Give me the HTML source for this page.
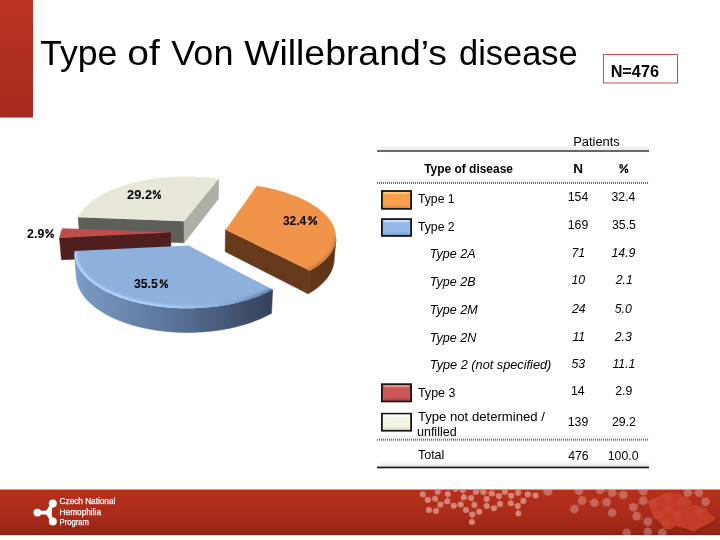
<!DOCTYPE html>
<html><head><meta charset="utf-8"><style>
html,body{margin:0;padding:0;background:#fff;width:720px;height:540px;overflow:hidden}
body{position:relative;font-family:"Liberation Sans",sans-serif}
svg text{font-family:"Liberation Sans",sans-serif;fill:#000}
</style></head><body>
<svg width="720" height="540" style="position:absolute;left:0;top:0;will-change:transform">
<defs>
<linearGradient id="gBar" x1="0" y1="0" x2="0" y2="1"><stop offset="0" stop-color="#BA3421"/><stop offset="1" stop-color="#A82A1E"/></linearGradient>
<linearGradient id="gFoot" x1="0" y1="0" x2="0" y2="1"><stop offset="0" stop-color="#B72F1C"/><stop offset="0.6" stop-color="#A92B1A"/><stop offset="1" stop-color="#962214"/></linearGradient>
<linearGradient id="gShadow" x1="0" y1="0" x2="0" y2="1"><stop offset="0" stop-color="#000" stop-opacity="0"/><stop offset="1" stop-color="#000" stop-opacity="0.09"/></linearGradient>
<linearGradient id="swOr" x1="0" y1="0" x2="0" y2="1"><stop offset="0" stop-color="#FBB070"/><stop offset="0.25" stop-color="#F79A4E"/><stop offset="1" stop-color="#F39448"/></linearGradient>
<linearGradient id="swBl" x1="0" y1="0" x2="0" y2="1"><stop offset="0" stop-color="#B5D0F4"/><stop offset="0.25" stop-color="#98BCEB"/><stop offset="1" stop-color="#8FB4E3"/></linearGradient>
<linearGradient id="swRd" x1="0" y1="0" x2="0" y2="1"><stop offset="0" stop-color="#E07A78"/><stop offset="0.25" stop-color="#CE5B58"/><stop offset="1" stop-color="#C65552"/></linearGradient>
<linearGradient id="swCr" x1="0" y1="0" x2="0" y2="1"><stop offset="0" stop-color="#FFFFF8"/><stop offset="0.25" stop-color="#F8F6EA"/><stop offset="1" stop-color="#F2F0E2"/></linearGradient>
<filter id="blur2" x="-20%" y="-20%" width="140%" height="140%"><feGaussianBlur stdDeviation="1.5"/></filter>
<filter id="blurS" x="-5%" y="-100%" width="110%" height="300%"><feGaussianBlur stdDeviation="1.6"/></filter>
<clipPath id="footClip"><rect x="0" y="489.6" width="720" height="45.4"/></clipPath>
<pattern id="dot" width="2" height="2" patternUnits="userSpaceOnUse" x="377" y="0"><rect width="1" height="2" fill="#6a6a6a"/></pattern>
</defs>
<rect x="0" y="0" width="33" height="117.5" fill="url(#gBar)"/>
<rect x="603.5" y="54.5" width="74" height="28.5" fill="#fff" stroke="#C0504D" stroke-width="1"/>
<svg width="720" height="540" style="position:absolute;left:0;top:0">
<defs>
<linearGradient id="gBl" gradientUnits="userSpaceOnUse" x1="75" y1="0" x2="272" y2="0"><stop offset="0" stop-color="#7C9CC6"/><stop offset="0.5" stop-color="#5A7398"/><stop offset="1" stop-color="#34425A"/></linearGradient>
<linearGradient id="gOr" gradientUnits="userSpaceOnUse" x1="300" y1="0" x2="336" y2="0"><stop offset="0" stop-color="#673A1B"/><stop offset="1" stop-color="#5C3318"/></linearGradient>
<linearGradient id="rBl" gradientUnits="userSpaceOnUse" x1="75" y1="0" x2="272" y2="0"><stop offset="0" stop-color="#B4D4FF"/><stop offset="0.45" stop-color="#B0D0FA"/><stop offset="0.75" stop-color="#8DB0DD"/><stop offset="1" stop-color="#5C7AA4"/></linearGradient>
<linearGradient id="rOr" gradientUnits="userSpaceOnUse" x1="300" y1="0" x2="336" y2="0"><stop offset="0" stop-color="#C87438"/><stop offset="1" stop-color="#D88440"/></linearGradient>
<filter id="blur1" x="-10%" y="-50%" width="120%" height="200%"><feGaussianBlur stdDeviation="0.9"/></filter>
</defs>
<polygon points="184.0,221.3 78.2,217.2 79.8,238.5 184.2,242.8" fill="#5E5F5A" stroke="#5E5F5A" stroke-width="0.6" stroke-linejoin="round"/>
<polygon points="184.0,221.3 184.2,242.8 218.3,198.9 218.6,178.9" fill="#AEAEA4" stroke="#AEAEA4" stroke-width="0.6" stroke-linejoin="round"/>
<clipPath id="ct3"><polygon points="184.0,221.3 78.2,217.2 78.8,215.9 79.5,214.6 80.2,213.4 81.0,212.1 81.9,210.9 82.9,209.7 83.9,208.5 84.9,207.3 86.1,206.2 87.3,205.0 88.5,203.9 89.8,202.8 91.1,201.7 92.6,200.6 94.0,199.5 95.5,198.5 97.1,197.5 98.7,196.5 100.4,195.5 102.1,194.5 103.8,193.6 105.6,192.7 107.5,191.8 109.3,190.9 111.3,190.1 113.2,189.3 115.2,188.5 117.2,187.7 119.3,186.9 121.4,186.2 123.5,185.5 125.7,184.8 127.9,184.2 130.1,183.6 132.4,182.9 134.6,182.4 136.9,181.8 139.3,181.3 141.6,180.8 144.0,180.3 146.4,179.9 148.8,179.5 151.2,179.1 153.6,178.7 156.1,178.4 158.6,178.1 161.0,177.8 163.5,177.5 166.0,177.3 168.5,177.1 171.0,176.9 173.6,176.8 176.1,176.7 178.6,176.6 181.2,176.5 183.7,176.5 186.2,176.5 188.7,176.5 191.3,176.6 193.8,176.6 196.3,176.7 198.8,176.9 201.3,177.0 203.8,177.2 206.3,177.4 208.8,177.7 211.3,177.9 213.7,178.2 216.2,178.6 218.6,178.9"/></clipPath>
<polygon points="184.0,221.3 78.2,217.2 78.8,215.9 79.5,214.6 80.2,213.4 81.0,212.1 81.9,210.9 82.9,209.7 83.9,208.5 84.9,207.3 86.1,206.2 87.3,205.0 88.5,203.9 89.8,202.8 91.1,201.7 92.6,200.6 94.0,199.5 95.5,198.5 97.1,197.5 98.7,196.5 100.4,195.5 102.1,194.5 103.8,193.6 105.6,192.7 107.5,191.8 109.3,190.9 111.3,190.1 113.2,189.3 115.2,188.5 117.2,187.7 119.3,186.9 121.4,186.2 123.5,185.5 125.7,184.8 127.9,184.2 130.1,183.6 132.4,182.9 134.6,182.4 136.9,181.8 139.3,181.3 141.6,180.8 144.0,180.3 146.4,179.9 148.8,179.5 151.2,179.1 153.6,178.7 156.1,178.4 158.6,178.1 161.0,177.8 163.5,177.5 166.0,177.3 168.5,177.1 171.0,176.9 173.6,176.8 176.1,176.7 178.6,176.6 181.2,176.5 183.7,176.5 186.2,176.5 188.7,176.5 191.3,176.6 193.8,176.6 196.3,176.7 198.8,176.9 201.3,177.0 203.8,177.2 206.3,177.4 208.8,177.7 211.3,177.9 213.7,178.2 216.2,178.6 218.6,178.9" fill="#E9E7DA"/>
<polygon points="225.5,229.8 225.2,251.6 308.1,293.8 309.8,270.7" fill="#673A1B" stroke="#673A1B" stroke-width="0.6" stroke-linejoin="round"/>
<polygon points="335.9,239.2 335.8,240.6 335.5,242.0 335.2,243.4 334.8,244.8 334.3,246.2 333.8,247.6 333.1,249.0 332.4,250.4 331.6,251.7 330.7,253.1 329.7,254.5 328.7,255.8 327.6,257.1 326.3,258.5 325.0,259.8 323.7,261.1 322.2,262.3 320.7,263.6 319.1,264.8 317.4,266.0 315.6,267.2 313.7,268.4 311.8,269.6 309.8,270.7 308.1,293.8 310.1,292.6 312.0,291.4 313.8,290.2 315.6,289.0 317.3,287.7 318.9,286.4 320.4,285.1 321.8,283.8 323.2,282.5 324.5,281.1 325.7,279.8 326.8,278.4 327.9,277.0 328.8,275.6 329.7,274.2 330.5,272.8 331.2,271.4 331.8,269.9 332.4,268.5 332.9,267.1 333.3,265.6 333.6,264.2 333.8,262.7 334.0,261.3" fill="url(#gOr)" stroke="url(#gOr)" stroke-width="0.6" stroke-linejoin="round"/>
<clipPath id="ct0"><polygon points="225.5,229.8 256.7,185.9 259.2,186.3 261.7,186.7 264.2,187.1 266.6,187.6 269.1,188.1 271.5,188.7 273.8,189.2 276.2,189.8 278.5,190.4 280.9,191.1 283.1,191.7 285.4,192.4 287.6,193.2 289.8,193.9 291.9,194.7 294.1,195.5 296.1,196.3 298.2,197.2 300.2,198.1 302.2,199.0 304.1,199.9 306.0,200.8 307.8,201.8 309.6,202.8 311.3,203.8 313.0,204.9 314.7,205.9 316.3,207.0 317.8,208.1 319.3,209.2 320.8,210.4 322.1,211.5 323.5,212.7 324.7,213.9 325.9,215.1 327.1,216.4 328.1,217.6 329.1,218.9 330.1,220.2 331.0,221.4 331.8,222.8 332.5,224.1 333.2,225.4 333.8,226.7 334.4,228.1 334.8,229.5 335.2,230.8 335.5,232.2 335.7,233.6 335.9,235.0 336.0,236.4 336.0,237.8 335.9,239.2 335.8,240.6 335.5,242.0 335.2,243.4 334.8,244.8 334.4,246.2 333.8,247.6 333.2,248.9 332.4,250.3 331.6,251.7 330.7,253.1 329.8,254.4 328.7,255.8 327.6,257.1 326.4,258.4 325.1,259.7 323.7,261.0 322.2,262.3 320.7,263.6 319.1,264.8 317.4,266.0 315.6,267.2 313.7,268.4 311.8,269.6 309.8,270.7"/></clipPath>
<polygon points="225.5,229.8 256.7,185.9 259.2,186.3 261.7,186.7 264.2,187.1 266.6,187.6 269.1,188.1 271.5,188.7 273.8,189.2 276.2,189.8 278.5,190.4 280.9,191.1 283.1,191.7 285.4,192.4 287.6,193.2 289.8,193.9 291.9,194.7 294.1,195.5 296.1,196.3 298.2,197.2 300.2,198.1 302.2,199.0 304.1,199.9 306.0,200.8 307.8,201.8 309.6,202.8 311.3,203.8 313.0,204.9 314.7,205.9 316.3,207.0 317.8,208.1 319.3,209.2 320.8,210.4 322.1,211.5 323.5,212.7 324.7,213.9 325.9,215.1 327.1,216.4 328.1,217.6 329.1,218.9 330.1,220.2 331.0,221.4 331.8,222.8 332.5,224.1 333.2,225.4 333.8,226.7 334.4,228.1 334.8,229.5 335.2,230.8 335.5,232.2 335.7,233.6 335.9,235.0 336.0,236.4 336.0,237.8 335.9,239.2 335.8,240.6 335.5,242.0 335.2,243.4 334.8,244.8 334.4,246.2 333.8,247.6 333.2,248.9 332.4,250.3 331.6,251.7 330.7,253.1 329.8,254.4 328.7,255.8 327.6,257.1 326.4,258.4 325.1,259.7 323.7,261.0 322.2,262.3 320.7,263.6 319.1,264.8 317.4,266.0 315.6,267.2 313.7,268.4 311.8,269.6 309.8,270.7" fill="#F0944A"/>
<g clip-path="url(#ct0)"><polyline points="336.0,236.4 336.0,237.8 335.9,239.2 335.8,240.6 335.5,242.0 335.2,243.4 334.8,244.8 334.3,246.2 333.8,247.6 333.1,249.0 332.4,250.4 331.6,251.7 330.7,253.1 329.7,254.5 328.7,255.8 327.6,257.1 326.3,258.5 325.1,259.8 323.7,261.1 322.2,262.3 320.7,263.6 319.1,264.8 317.4,266.0 315.6,267.2 313.8,268.4 311.8,269.6 309.8,270.7 307.8,271.8 305.6,272.8" fill="none" stroke="url(#rOr)" stroke-width="5" filter="url(#blur1)"/></g>
<polygon points="170.6,232.5 59.5,237.7 61.5,259.7 171.0,254.4" fill="#4F1E1E" stroke="#4F1E1E" stroke-width="0.6" stroke-linejoin="round"/>
<clipPath id="ct2"><polygon points="170.6,232.5 59.5,237.7 59.8,236.1 60.1,234.5 60.5,232.9 61.0,231.3 61.6,229.7 62.3,228.2"/></clipPath>
<polygon points="170.6,232.5 59.5,237.7 59.8,236.1 60.1,234.5 60.5,232.9 61.0,231.3 61.6,229.7 62.3,228.2" fill="#BF4E4B"/>
<polygon points="272.6,289.6 270.4,290.7 268.1,291.9 265.7,293.0 263.3,294.1 260.7,295.2 258.2,296.2 255.5,297.2 252.8,298.1 250.1,299.1 247.2,299.9 244.4,300.8 241.4,301.6 238.5,302.3 235.4,303.1 232.4,303.7 229.3,304.4 226.1,304.9 222.9,305.5 219.7,306.0 216.5,306.4 213.2,306.8 209.9,307.2 206.6,307.5 203.2,307.7 199.9,308.0 196.5,308.1 193.2,308.2 189.8,308.3 186.4,308.3 183.0,308.3 179.7,308.2 176.3,308.0 173.0,307.9 169.6,307.6 166.3,307.3 163.0,307.0 159.7,306.6 156.5,306.2 153.3,305.7 150.1,305.2 147.0,304.7 143.9,304.1 140.8,303.4 137.8,302.7 134.8,302.0 131.9,301.2 129.0,300.4 126.2,299.5 123.5,298.6 120.8,297.7 118.1,296.7 115.6,295.7 113.1,294.7 110.6,293.6 108.3,292.5 106.0,291.4 103.8,290.2 101.6,289.0 99.6,287.8 97.6,286.5 95.6,285.2 93.8,283.9 92.1,282.6 90.4,281.3 88.8,279.9 87.3,278.5 85.9,277.2 84.5,275.7 83.3,274.3 82.1,272.9 81.0,271.4 80.0,270.0 79.1,268.5 78.2,267.0 77.5,265.5 76.8,264.1 76.2,262.6 75.8,261.1 75.3,259.6 75.0,258.1 74.8,256.6 74.6,255.1 76.4,277.7 76.6,279.2 76.8,280.7 77.2,282.3 77.6,283.8 78.1,285.4 78.6,286.9 79.3,288.5 80.0,290.0 80.9,291.5 81.8,293.0 82.8,294.5 83.8,296.0 85.0,297.5 86.2,299.0 87.6,300.4 89.0,301.8 90.5,303.3 92.0,304.7 93.7,306.0 95.4,307.4 97.2,308.7 99.1,310.1 101.1,311.3 103.1,312.6 105.2,313.8 107.4,315.0 109.7,316.2 112.0,317.3 114.4,318.4 116.9,319.5 119.4,320.6 122.0,321.6 124.7,322.5 127.4,323.4 130.1,324.3 133.0,325.2 135.8,326.0 138.8,326.7 141.7,327.4 144.7,328.1 147.8,328.7 150.9,329.3 154.0,329.8 157.2,330.3 160.4,330.8 163.6,331.1 166.8,331.5 170.1,331.8 173.4,332.0 176.7,332.2 180.0,332.3 183.3,332.4 186.6,332.5 189.9,332.4 193.3,332.4 196.6,332.3 199.9,332.1 203.2,331.9 206.5,331.6 209.7,331.3 213.0,330.9 216.2,330.5 219.4,330.1 222.5,329.6 225.7,329.0 228.8,328.4 231.8,327.8 234.9,327.1 237.8,326.3 240.8,325.6 243.6,324.7 246.5,323.9 249.2,323.0 252.0,322.0 254.6,321.0 257.2,320.0 259.8,319.0 262.2,317.9 264.7,316.7 267.0,315.6 269.3,314.4 271.5,313.2" fill="url(#gBl)" stroke="url(#gBl)" stroke-width="0.6" stroke-linejoin="round"/>
<clipPath id="ct1"><polygon points="188.6,245.6 272.6,289.6 270.4,290.7 268.1,291.9 265.7,293.0 263.3,294.1 260.8,295.2 258.2,296.2 255.6,297.2 252.9,298.1 250.2,299.0 247.4,299.9 244.5,300.7 241.6,301.5 238.6,302.3 235.6,303.0 232.6,303.7 229.5,304.3 226.3,304.9 223.2,305.4 220.0,305.9 216.7,306.4 213.5,306.8 210.2,307.1 206.9,307.5 203.6,307.7 200.2,307.9 196.9,308.1 193.5,308.2 190.2,308.3 186.8,308.3 183.5,308.3 180.1,308.2 176.7,308.1 173.4,307.9 170.1,307.7 166.8,307.4 163.5,307.1 160.2,306.7 157.0,306.3 153.8,305.8 150.6,305.3 147.5,304.8 144.4,304.2 141.3,303.5 138.3,302.8 135.4,302.1 132.4,301.4 129.6,300.5 126.8,299.7 124.0,298.8 121.3,297.9 118.7,296.9 116.1,295.9 113.6,294.9 111.2,293.8 108.8,292.7 106.5,291.6 104.3,290.5 102.1,289.3 100.0,288.1 98.0,286.8 96.1,285.6 94.3,284.3 92.5,283.0 90.8,281.6 89.2,280.3 87.7,278.9 86.2,277.5 84.9,276.1 83.6,274.7 82.4,273.3 81.3,271.9 80.3,270.4 79.3,268.9 78.5,267.5 77.7,266.0 77.0,264.5 76.4,263.0 75.9,261.6 75.5,260.1 75.1,258.6 74.8,257.1 74.6,255.6 74.5,254.1 74.5,252.6 74.6,251.1"/></clipPath>
<polygon points="188.6,245.6 272.6,289.6 270.4,290.7 268.1,291.9 265.7,293.0 263.3,294.1 260.8,295.2 258.2,296.2 255.6,297.2 252.9,298.1 250.2,299.0 247.4,299.9 244.5,300.7 241.6,301.5 238.6,302.3 235.6,303.0 232.6,303.7 229.5,304.3 226.3,304.9 223.2,305.4 220.0,305.9 216.7,306.4 213.5,306.8 210.2,307.1 206.9,307.5 203.6,307.7 200.2,307.9 196.9,308.1 193.5,308.2 190.2,308.3 186.8,308.3 183.5,308.3 180.1,308.2 176.7,308.1 173.4,307.9 170.1,307.7 166.8,307.4 163.5,307.1 160.2,306.7 157.0,306.3 153.8,305.8 150.6,305.3 147.5,304.8 144.4,304.2 141.3,303.5 138.3,302.8 135.4,302.1 132.4,301.4 129.6,300.5 126.8,299.7 124.0,298.8 121.3,297.9 118.7,296.9 116.1,295.9 113.6,294.9 111.2,293.8 108.8,292.7 106.5,291.6 104.3,290.5 102.1,289.3 100.0,288.1 98.0,286.8 96.1,285.6 94.3,284.3 92.5,283.0 90.8,281.6 89.2,280.3 87.7,278.9 86.2,277.5 84.9,276.1 83.6,274.7 82.4,273.3 81.3,271.9 80.3,270.4 79.3,268.9 78.5,267.5 77.7,266.0 77.0,264.5 76.4,263.0 75.9,261.6 75.5,260.1 75.1,258.6 74.8,257.1 74.6,255.6 74.5,254.1 74.5,252.6 74.6,251.1" fill="#8DB0DD"/>
<g clip-path="url(#ct1)"><polyline points="276.8,287.1 274.7,288.4 272.6,289.6 270.4,290.8 268.0,291.9 265.7,293.0 263.2,294.1 260.7,295.2 258.1,296.2 255.5,297.2 252.8,298.2 250.0,299.1 247.2,299.9 244.3,300.8 241.4,301.6 238.4,302.3 235.4,303.1 232.3,303.7 229.2,304.4 226.1,304.9 222.9,305.5 219.7,306.0 216.4,306.4 213.2,306.8 209.9,307.2 206.6,307.5 203.2,307.7 199.9,308.0 196.5,308.1 193.1,308.2 189.8,308.3 186.4,308.3 183.0,308.3 179.7,308.2 176.3,308.0 172.9,307.9 169.6,307.6 166.3,307.3 163.0,307.0 159.7,306.6 156.5,306.2 153.3,305.7 150.1,305.2 147.0,304.7 143.9,304.1 140.8,303.4 137.8,302.7 134.8,302.0 131.9,301.2 129.0,300.4 126.2,299.5 123.5,298.6 120.8,297.7 118.2,296.7 115.6,295.7 113.1,294.7 110.7,293.6 108.3,292.5 106.0,291.4 103.8,290.2 101.6,289.0 99.6,287.8 97.6,286.5 95.7,285.2 93.8,284.0 92.1,282.6 90.4,281.3 88.8,279.9 87.3,278.6 85.9,277.2 84.5,275.8 83.3,274.3 82.1,272.9 81.0,271.4 80.0,270.0 79.1,268.5 78.2,267.0 77.5,265.6 76.8,264.1 76.3,262.6 75.8,261.1 75.3,259.6 75.0,258.1 74.8,256.6 74.6,255.1 74.5,253.6 74.5,252.1" fill="none" stroke="url(#rBl)" stroke-width="5" filter="url(#blur1)"/></g>
</svg>
<!-- table -->
<rect x="379" y="147.5" width="270" height="3" fill="#000" opacity="0.10" filter="url(#blurS)"/>
<rect x="377" y="150" width="272" height="2" fill="#676767"/>
<rect x="379" y="179.5" width="270" height="3" fill="#000" opacity="0.08" filter="url(#blurS)"/>
<rect x="377" y="182" width="272" height="2" fill="url(#dot)"/>
<rect x="379" y="436" width="270" height="3" fill="#000" opacity="0.08" filter="url(#blurS)"/>
<rect x="377" y="438.7" width="272" height="2" fill="url(#dot)"/>
<rect x="379" y="463.5" width="270" height="3" fill="#000" opacity="0.10" filter="url(#blurS)"/>
<rect x="377" y="466.6" width="272" height="1.7" fill="#1a1a1a"/>
<rect x="381.0" y="190.1" width="31.0" height="19.599999999999994" fill="#151515"/><rect x="382.8" y="191.9" width="27.4" height="16.0" fill="#F99F4E"/><polygon points="382.8,191.9 410.2,191.9 408.0,194.1 385.0,194.1" fill="#FFCB72"/><polygon points="382.8,207.89999999999998 410.2,207.89999999999998 408.0,205.7 385.0,205.7" fill="#D9813A" opacity="0.5"/>
<rect x="381.0" y="218.2" width="31.0" height="18.600000000000023" fill="#151515"/><rect x="382.8" y="220.0" width="27.4" height="15.0" fill="#93B8E8"/><polygon points="382.8,220.0 410.2,220.0 408.0,222.2 385.0,222.2" fill="#C6E0FF"/><polygon points="382.8,235.0 410.2,235.0 408.0,232.8 385.0,232.8" fill="#6F95C8" opacity="0.5"/>
<rect x="381.0" y="383.3" width="31.0" height="19.0" fill="#151515"/><rect x="382.8" y="385.1" width="27.4" height="15.4" fill="#CB5856"/><polygon points="382.8,385.1 410.2,385.1 408.0,387.3 385.0,387.3" fill="#F08A88"/><polygon points="382.8,400.5 410.2,400.5 408.0,398.3 385.0,398.3" fill="#A03A38" opacity="0.5"/>
<rect x="381.0" y="412.8" width="31.0" height="18.80000000000001" fill="#151515"/><rect x="382.8" y="414.6" width="27.4" height="15.2" fill="#F5F3E6"/><polygon points="382.8,414.6 410.2,414.6 408.0,416.8 385.0,416.8" fill="#FFFFFA"/><polygon points="382.8,429.8 410.2,429.8 408.0,427.6 385.0,427.6" fill="#CFCCBA" opacity="0.5"/>
<text x="40.20" y="65.00" font-size="35.8" font-weight="normal" font-style="normal" textLength="77.20" lengthAdjust="spacingAndGlyphs">Type</text>
<text x="127.21" y="65.00" font-size="35.8" font-weight="normal" font-style="normal" textLength="32.64" lengthAdjust="spacingAndGlyphs">of</text>
<text x="171.30" y="65.00" font-size="35.8" font-weight="normal" font-style="normal" textLength="62.13" lengthAdjust="spacingAndGlyphs">Von</text>
<text x="244.20" y="65.00" font-size="35.8" font-weight="normal" font-style="normal" textLength="202.84" lengthAdjust="spacingAndGlyphs">Willebrand’s</text>
<text x="459.04" y="65.00" font-size="35.8" font-weight="normal" font-style="normal" textLength="118.60" lengthAdjust="spacingAndGlyphs">disease</text>
<text x="610.64" y="76.90" font-size="16.9" font-weight="bold" font-style="normal" textLength="48.35" lengthAdjust="spacingAndGlyphs">N=476</text>
<text x="573.22" y="146.20" font-size="13.1" font-weight="normal" font-style="normal" textLength="46.59" lengthAdjust="spacingAndGlyphs">Patients</text>
<text x="424.20" y="172.90" font-size="13.1" font-weight="bold" font-style="normal" textLength="88.76" lengthAdjust="spacingAndGlyphs">Type of disease</text>
<text x="573.16" y="173.00" font-size="13.1" font-weight="bold" font-style="normal" textLength="9.82" lengthAdjust="spacingAndGlyphs">N</text>
<g fill="none" stroke="#000" stroke-width="1.25"><ellipse cx="621.13" cy="166.39" rx="1.24" ry="1.74"/><ellipse cx="626.47" cy="170.87" rx="1.24" ry="1.74"/><line x1="620.38" y1="172.91" x2="627.41" y2="164.39" stroke-width="1.45"/></g>
<text x="282.90" y="224.80" font-size="12.6" font-weight="bold" font-style="normal" textLength="23.34" lengthAdjust="spacingAndGlyphs">32.4</text>
<g fill="none" stroke="#000" stroke-width="1.25"><ellipse cx="310.00" cy="218.34" rx="1.23" ry="1.70"/><ellipse cx="315.30" cy="222.72" rx="1.23" ry="1.70"/><line x1="309.27" y1="224.72" x2="316.23" y2="216.39" stroke-width="1.45"/></g>
<text x="127.10" y="198.75" font-size="12.6" font-weight="bold" font-style="normal" textLength="24.92" lengthAdjust="spacingAndGlyphs">29.2</text>
<g fill="none" stroke="#000" stroke-width="1.25"><ellipse cx="154.40" cy="192.29" rx="1.12" ry="1.70"/><ellipse cx="159.24" cy="196.67" rx="1.12" ry="1.70"/><line x1="153.73" y1="198.66" x2="160.09" y2="190.34" stroke-width="1.45"/></g>
<text x="27.10" y="237.80" font-size="12.6" font-weight="bold" font-style="normal" textLength="17.16" lengthAdjust="spacingAndGlyphs">2.9</text>
<g fill="none" stroke="#000" stroke-width="1.25"><ellipse cx="47.01" cy="231.34" rx="1.18" ry="1.70"/><ellipse cx="52.09" cy="235.72" rx="1.18" ry="1.70"/><line x1="46.30" y1="237.72" x2="52.98" y2="229.39" stroke-width="1.45"/></g>
<text x="134.00" y="288.00" font-size="12.6" font-weight="bold" font-style="normal" textLength="23.83" lengthAdjust="spacingAndGlyphs">35.5</text>
<g fill="none" stroke="#000" stroke-width="1.25"><ellipse cx="161.34" cy="281.54" rx="1.14" ry="1.70"/><ellipse cx="166.25" cy="285.92" rx="1.14" ry="1.70"/><line x1="160.66" y1="287.92" x2="167.12" y2="279.58" stroke-width="1.45"/></g>
<text x="417.90" y="203.10" font-size="13.1" font-weight="normal" font-style="normal" textLength="36.79" lengthAdjust="spacingAndGlyphs">Type 1</text>
<text x="417.90" y="230.60" font-size="13.1" font-weight="normal" font-style="normal" textLength="36.79" lengthAdjust="spacingAndGlyphs">Type 2</text>
<text x="429.84" y="258.30" font-size="13.1" font-weight="normal" font-style="italic" textLength="45.93" lengthAdjust="spacingAndGlyphs">Type 2A</text>
<text x="429.84" y="286.00" font-size="13.1" font-weight="normal" font-style="italic" textLength="45.78" lengthAdjust="spacingAndGlyphs">Type 2B</text>
<text x="429.84" y="313.70" font-size="13.1" font-weight="normal" font-style="italic" textLength="47.86" lengthAdjust="spacingAndGlyphs">Type 2M</text>
<text x="429.84" y="341.50" font-size="13.1" font-weight="normal" font-style="italic" textLength="46.47" lengthAdjust="spacingAndGlyphs">Type 2N</text>
<text x="429.83" y="368.90" font-size="13.1" font-weight="normal" font-style="italic" textLength="121.48" lengthAdjust="spacingAndGlyphs">Type 2 (not specified)</text>
<text x="417.90" y="397.30" font-size="13.1" font-weight="normal" font-style="normal" textLength="37.65" lengthAdjust="spacingAndGlyphs">Type 3</text>
<text x="417.90" y="420.50" font-size="13.1" font-weight="normal" font-style="normal" textLength="126.96" lengthAdjust="spacingAndGlyphs">Type not determined /</text>
<text x="416.94" y="436.20" font-size="13.1" font-weight="normal" font-style="normal" textLength="39.75" lengthAdjust="spacingAndGlyphs">unfilled</text>
<text x="417.90" y="459.40" font-size="13.1" font-weight="normal" font-style="normal" textLength="26.50" lengthAdjust="spacingAndGlyphs">Total</text>
<text x="567.71" y="201.20" font-size="13.1" font-weight="normal" font-style="normal" textLength="20.52" lengthAdjust="spacingAndGlyphs">154</text>
<text x="611.50" y="201.20" font-size="13.1" font-weight="normal" font-style="normal" textLength="23.92" lengthAdjust="spacingAndGlyphs">32.4</text>
<text x="567.71" y="228.90" font-size="13.1" font-weight="normal" font-style="normal" textLength="20.52" lengthAdjust="spacingAndGlyphs">169</text>
<text x="611.97" y="228.90" font-size="13.1" font-weight="normal" font-style="normal" textLength="23.92" lengthAdjust="spacingAndGlyphs">35.5</text>
<text x="571.46" y="256.70" font-size="13.1" font-weight="normal" font-style="italic" textLength="13.68" lengthAdjust="spacingAndGlyphs">71</text>
<text x="611.50" y="256.70" font-size="13.1" font-weight="normal" font-style="italic" textLength="23.92" lengthAdjust="spacingAndGlyphs">14.9</text>
<text x="571.46" y="284.40" font-size="13.1" font-weight="normal" font-style="italic" textLength="13.68" lengthAdjust="spacingAndGlyphs">10</text>
<text x="615.72" y="284.40" font-size="13.1" font-weight="normal" font-style="italic" textLength="17.09" lengthAdjust="spacingAndGlyphs">2.1</text>
<text x="571.93" y="312.60" font-size="13.1" font-weight="normal" font-style="italic" textLength="13.68" lengthAdjust="spacingAndGlyphs">24</text>
<text x="614.78" y="312.60" font-size="13.1" font-weight="normal" font-style="italic" textLength="17.09" lengthAdjust="spacingAndGlyphs">5.0</text>
<text x="572.40" y="341.00" font-size="13.1" font-weight="normal" font-style="italic" textLength="12.76" lengthAdjust="spacingAndGlyphs">11</text>
<text x="614.78" y="341.00" font-size="13.1" font-weight="normal" font-style="italic" textLength="17.09" lengthAdjust="spacingAndGlyphs">2.3</text>
<text x="571.46" y="367.90" font-size="13.1" font-weight="normal" font-style="italic" textLength="13.68" lengthAdjust="spacingAndGlyphs">53</text>
<text x="612.44" y="367.90" font-size="13.1" font-weight="normal" font-style="italic" textLength="23.01" lengthAdjust="spacingAndGlyphs">11.1</text>
<text x="570.99" y="395.20" font-size="13.1" font-weight="normal" font-style="normal" textLength="13.68" lengthAdjust="spacingAndGlyphs">14</text>
<text x="615.25" y="395.20" font-size="13.1" font-weight="normal" font-style="normal" textLength="17.09" lengthAdjust="spacingAndGlyphs">2.9</text>
<text x="567.71" y="426.20" font-size="13.1" font-weight="normal" font-style="normal" textLength="20.52" lengthAdjust="spacingAndGlyphs">139</text>
<text x="611.97" y="426.20" font-size="13.1" font-weight="normal" font-style="normal" textLength="23.92" lengthAdjust="spacingAndGlyphs">29.2</text>
<text x="568.18" y="459.80" font-size="13.1" font-weight="normal" font-style="normal" textLength="20.52" lengthAdjust="spacingAndGlyphs">476</text>
<text x="607.74" y="459.80" font-size="13.1" font-weight="normal" font-style="normal" textLength="30.77" lengthAdjust="spacingAndGlyphs">100.0</text>
<!-- footer -->
<rect x="0" y="489" width="720" height="1" fill="#C55A48" opacity="0.6"/>
<rect x="0" y="490" width="720" height="45" fill="url(#gFoot)"/>
<rect x="0" y="534" width="720" height="1" fill="#8A1C10"/>
<g clip-path="url(#footClip)"><g stroke="#fff" stroke-opacity="0.2" stroke-width="1.2"><line x1="422.7" y1="494.3" x2="427.8" y2="500.1"/><line x1="437.8" y1="491.7" x2="435.1" y2="498.8"/><line x1="447.8" y1="493.9" x2="447.3" y2="501.2"/><line x1="455.6" y1="489.0" x2="462.7" y2="489.9"/><line x1="462.7" y1="489.9" x2="463.8" y2="497.2"/><line x1="476.0" y1="491.7" x2="483.3" y2="492.1"/><line x1="476.0" y1="491.7" x2="471.1" y2="497.9"/><line x1="483.3" y1="492.1" x2="491.8" y2="493.4"/><line x1="483.3" y1="492.1" x2="486.7" y2="499.0"/><line x1="491.8" y1="493.4" x2="498.9" y2="496.1"/><line x1="491.8" y1="493.4" x2="486.7" y2="499.0"/><line x1="498.9" y1="496.1" x2="504.9" y2="491.7"/><line x1="498.9" y1="496.1" x2="500.0" y2="503.9"/><line x1="504.9" y1="491.7" x2="511.1" y2="495.7"/><line x1="511.1" y1="495.7" x2="518.2" y2="492.8"/><line x1="511.1" y1="495.7" x2="510.7" y2="503.2"/><line x1="527.8" y1="494.3" x2="535.6" y2="495.4"/><line x1="527.8" y1="494.3" x2="523.3" y2="501.0"/><line x1="427.8" y1="500.1" x2="435.1" y2="498.8"/><line x1="435.1" y1="498.8" x2="440.4" y2="504.6"/><line x1="447.3" y1="501.2" x2="440.4" y2="504.6"/><line x1="447.3" y1="501.2" x2="453.8" y2="505.7"/><line x1="463.8" y1="497.2" x2="471.1" y2="497.9"/><line x1="463.8" y1="497.2" x2="460.7" y2="504.6"/><line x1="471.1" y1="497.9" x2="474.4" y2="505.0"/><line x1="486.7" y1="499.0" x2="486.7" y2="506.1"/><line x1="523.3" y1="501.0" x2="517.8" y2="506.1"/><line x1="440.4" y1="504.6" x2="436.0" y2="511.0"/><line x1="453.8" y1="505.7" x2="460.7" y2="504.6"/><line x1="460.7" y1="504.6" x2="466.0" y2="510.1"/><line x1="474.4" y1="505.0" x2="479.3" y2="511.7"/><line x1="486.7" y1="506.1" x2="494.0" y2="508.3"/><line x1="500.0" y1="503.9" x2="494.0" y2="508.3"/><line x1="510.7" y1="503.2" x2="517.8" y2="506.1"/><line x1="517.8" y1="506.1" x2="518.4" y2="513.4"/><line x1="428.9" y1="509.9" x2="436.0" y2="511.0"/><line x1="466.0" y1="510.1" x2="472.2" y2="514.6"/><line x1="479.3" y1="511.7" x2="472.2" y2="514.6"/><line x1="472.2" y1="514.6" x2="471.8" y2="522.1"/></g><g fill="#D38477"><circle cx="422.7" cy="494.3" r="3"/><circle cx="437.8" cy="491.7" r="3"/><circle cx="447.8" cy="493.9" r="3"/><circle cx="455.6" cy="489.0" r="3"/><circle cx="462.7" cy="489.9" r="3"/><circle cx="476.0" cy="491.7" r="3"/><circle cx="483.3" cy="492.1" r="3"/><circle cx="491.8" cy="493.4" r="3"/><circle cx="498.9" cy="496.1" r="3"/><circle cx="504.9" cy="491.7" r="3"/><circle cx="511.1" cy="495.7" r="3"/><circle cx="518.2" cy="492.8" r="3"/><circle cx="527.8" cy="494.3" r="3"/><circle cx="535.6" cy="495.4" r="3"/><circle cx="427.8" cy="500.1" r="3"/><circle cx="435.1" cy="498.8" r="3"/><circle cx="447.3" cy="501.2" r="3"/><circle cx="463.8" cy="497.2" r="3"/><circle cx="471.1" cy="497.9" r="3"/><circle cx="486.7" cy="499.0" r="3"/><circle cx="523.3" cy="501.0" r="3"/><circle cx="440.4" cy="504.6" r="3"/><circle cx="453.8" cy="505.7" r="3"/><circle cx="460.7" cy="504.6" r="3"/><circle cx="474.4" cy="505.0" r="3"/><circle cx="486.7" cy="506.1" r="3"/><circle cx="500.0" cy="503.9" r="3"/><circle cx="510.7" cy="503.2" r="3"/><circle cx="517.8" cy="506.1" r="3"/><circle cx="428.9" cy="509.9" r="3"/><circle cx="436.0" cy="511.0" r="3"/><circle cx="466.0" cy="510.1" r="3"/><circle cx="479.3" cy="511.7" r="3"/><circle cx="494.0" cy="508.3" r="3"/><circle cx="518.4" cy="513.4" r="3"/><circle cx="472.2" cy="514.6" r="3"/><circle cx="471.8" cy="522.1" r="3"/><circle cx="547.8" cy="491.2" r="4.6" fill="#fff" fill-opacity="0.3"/></g>
<g stroke="#fff" stroke-opacity="0.12" stroke-width="1.5"><line x1="580.2" y1="494.6" x2="580.9" y2="496.5"/><line x1="604.2" y1="490.9" x2="608.0" y2="491.8"/><line x1="616.4" y1="493.6" x2="619.1" y2="494.2"/><line x1="610.1" y1="496.5" x2="608.8" y2="498.6"/><line x1="643.3" y1="495.5" x2="643.3" y2="496.3"/><line x1="586.5" y1="501.3" x2="590.2" y2="502.0"/><line x1="579.3" y1="503.7" x2="577.4" y2="505.8"/><line x1="598.7" y1="502.6" x2="602.4" y2="502.5"/><line x1="608.7" y1="506.1" x2="610.2" y2="509.0"/><line x1="636.9" y1="504.8" x2="639.8" y2="502.9"/><line x1="634.8" y1="511.2" x2="635.2" y2="512.1"/><line x1="647.4" y1="501.9" x2="649.3" y2="502.5"/><line x1="640.5" y1="518.0" x2="643.9" y2="519.7"/><line x1="647.8" y1="526.0" x2="647.8" y2="527.4"/><line x1="651.4" y1="519.3" x2="654.2" y2="517.4"/><line x1="663.6" y1="528.7" x2="664.2" y2="526.9"/><line x1="654.9" y1="507.9" x2="656.2" y2="511.0"/><line x1="667.1" y1="501.5" x2="667.4" y2="505.2"/><line x1="683.5" y1="499.2" x2="685.4" y2="496.4"/><line x1="680.0" y1="506.9" x2="678.9" y2="510.9"/><line x1="692.1" y1="492.8" x2="694.6" y2="492.8"/><line x1="701.5" y1="496.2" x2="703.0" y2="498.2"/><line x1="703.2" y1="505.2" x2="701.3" y2="508.1"/><line x1="671.5" y1="511.5" x2="674.0" y2="512.9"/><line x1="664.0" y1="511.5" x2="661.5" y2="512.9"/><line x1="660.8" y1="518.0" x2="662.5" y2="519.7"/></g><g fill="#fff" fill-opacity="0.27"><circle cx="578.9" cy="490.6" r="4.3"/><circle cx="600.0" cy="489.9" r="4.3"/><circle cx="612.2" cy="492.8" r="4.3"/><circle cx="623.3" cy="495.0" r="4.3"/><circle cx="643.3" cy="491.2" r="4.3"/><circle cx="582.2" cy="500.6" r="4.3"/><circle cx="594.4" cy="502.8" r="4.3"/><circle cx="606.7" cy="502.3" r="4.3"/><circle cx="574.4" cy="509.0" r="4.3"/><circle cx="612.2" cy="512.8" r="4.3"/><circle cx="633.3" cy="507.2" r="4.3"/><circle cx="643.3" cy="500.6" r="4.3"/><circle cx="636.7" cy="516.1" r="4.3"/><circle cx="647.8" cy="521.7" r="4.3"/><circle cx="626.7" cy="532.8" r="4.3"/><circle cx="647.8" cy="531.7" r="4.3"/><circle cx="662.2" cy="532.8" r="4.3"/><circle cx="653.3" cy="503.9" r="4.3"/><circle cx="666.7" cy="497.2" r="4.3"/><circle cx="681.1" cy="502.8" r="4.3"/><circle cx="687.8" cy="492.8" r="4.3"/><circle cx="698.9" cy="492.8" r="4.3"/><circle cx="705.6" cy="501.7" r="4.3"/><circle cx="667.8" cy="509.4" r="4.3"/><circle cx="677.8" cy="515.0" r="4.3"/><circle cx="657.8" cy="515.0" r="4.3"/><circle cx="698.9" cy="511.7" r="4.3"/><circle cx="665.6" cy="522.8" r="4.3"/></g></g>
<polygon points="649.4,506.1 650.6,499.4 656.7,497.2 662.2,493.9 672.2,491.7 673.3,493.9 678.9,492.8 682.2,496.1 687.8,497.8 692.2,501.7 691.1,506.1 696.7,504.4 700.0,507.2 705.6,507.8 708.9,512.8 715.6,518.3 712.2,521.7 706.7,525.0 698.9,528.3 694.4,531.7 688.9,529.4 682.2,527.8 675.6,526.1 671.1,529.4 665.6,529.4 660.0,522.8 654.4,517.2 650.6,511.7" fill="#000" opacity="0.12" transform="translate(1.2,1.5)" filter="url(#blur2)"/><polygon points="649.4,506.1 650.6,499.4 656.7,497.2 662.2,493.9 672.2,491.7 673.3,493.9 678.9,492.8 682.2,496.1 687.8,497.8 692.2,501.7 691.1,506.1 696.7,504.4 700.0,507.2 705.6,507.8 708.9,512.8 715.6,518.3 712.2,521.7 706.7,525.0 698.9,528.3 694.4,531.7 688.9,529.4 682.2,527.8 675.6,526.1 671.1,529.4 665.6,529.4 660.0,522.8 654.4,517.2 650.6,511.7" fill="#C9402A" fill-opacity="0.88"/>
<g fill="#fff" stroke="#fff">
<circle cx="37.4" cy="512.6" r="3.9" stroke="none"/>
<circle cx="52.8" cy="503.4" r="4" stroke="none"/>
<circle cx="52.8" cy="521.4" r="4" stroke="none"/>
<path d="M37.4,512.6 L47.5,512.6 L52.8,503.4 M47.5,512.6 L52.8,521.4" stroke-width="3.8" fill="none" stroke-linejoin="round"/>
<polygon points="43.5,512.6 51.8,506.2 51.8,519" stroke="none"/>
</g>
<g fill="#fff" font-size="9.2" font-weight="normal" style="stroke:#fff;stroke-width:0.25">
<text x="59.6" y="504.3" textLength="55.7" lengthAdjust="spacingAndGlyphs" style="fill:#fff">Czech National</text>
<text x="59.6" y="514.7" textLength="41.4" lengthAdjust="spacingAndGlyphs" style="fill:#fff">Hemophilia</text>
<text x="59.6" y="524.7" textLength="29.4" lengthAdjust="spacingAndGlyphs" style="fill:#fff">Program</text>
</g>
</svg>
</body></html>
